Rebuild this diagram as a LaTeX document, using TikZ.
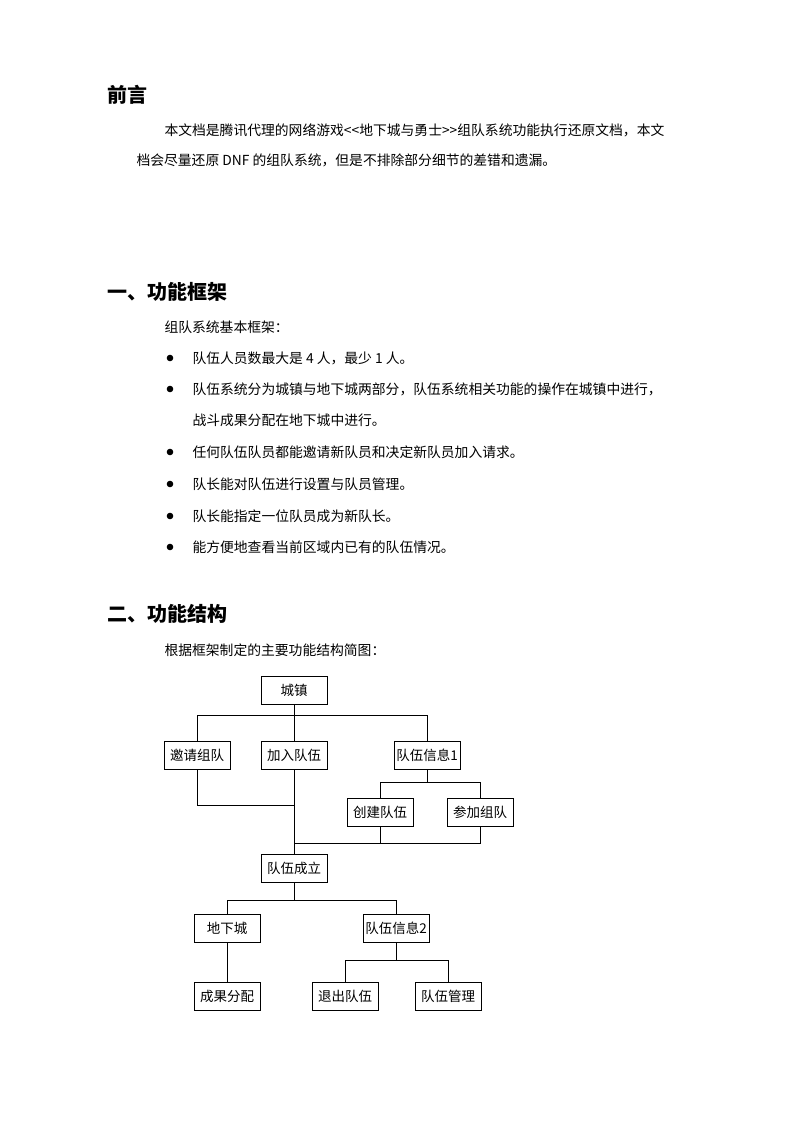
\documentclass[tikz,border=0pt]{standalone}
\usepackage{fontspec}
\setmainfont{Liberation Serif}
\newfontfamily\cjk{Noto Sans CJK SC}
\begin{document}
\begin{tikzpicture}[x=1pt,y=-1pt,
 bx/.style={draw,line width=0.8pt,minimum width=66pt,minimum height=28pt,inner sep=1pt,font=\cjk\fontsize{13.5}{14}\selectfont},
 ln/.style={line width=0.8pt},
 bd/.style={anchor=west,font=\cjk\fontsize{13.8}{15}\selectfont},
 hd/.style={anchor=west,font=\cjk\bfseries\fontsize{20}{22}\selectfont}]
\useasboundingbox (0,0) rectangle (794,1123);
\node[hd] (h0) at (104,95) {前言};
\node[bd] (p1) at (161,130) {本文档是腾讯代理的网络游戏<<地下城与勇士>>组队系统功能执行还原文档，本文};
\node[bd] (p2) at (133,160) {档会尽量还原 DNF 的组队系统，但是不排除部分细节的差错和遗漏。};
\node[hd] (h1) at (104,292) {一、功能框架};
\node[bd] (t1) at (161,327) {组队系统基本框架：};
\foreach \y/\t in {358/队伍人员数最大是 4 人，最少 1 人。,389/队伍系统分为城镇与地下城两部分，队伍系统相关功能的操作在城镇中进行，,452/任何队伍队员都能邀请新队员和决定新队员加入请求。,484/队长能对队伍进行设置与队员管理。,516/队长能指定一位队员成为新队长。,547/能方便地查看当前区域内已有的队伍情况。}{
 \fill (170,\y) circle (3.3);
 \node[bd] at (189,\y) {\t};}
\node[bd] (c1) at (189,420) {战斗成果分配在地下城中进行。};
\node[hd] (h2) at (104,614) {二、功能结构};
\node[bd] (t2) at (161,650) {根据框架制定的主要功能结构简图：};
% diagram
\node[bx] (cz) at (294,690) {城镇};
\node[bx] (yq) at (197,755) {邀请组队};
\node[bx] (jr) at (294,755) {加入队伍};
\node[bx] (x1) at (427,755) {队伍信息1};
\node[bx] (cj) at (380,812) {创建队伍};
\node[bx] (cjz) at (480,812) {参加组队};
\node[bx] (cl) at (294,868) {队伍成立};
\node[bx] (dx) at (227,928) {地下城};
\node[bx] (x2) at (396,928) {队伍信息2};
\node[bx] (cg) at (227,996) {成果分配};
\node[bx] (tc) at (345,996) {退出队伍};
\node[bx] (gl) at (448,996) {队伍管理};
\coordinate (j1) at (294,715);
\draw[ln] (cz.south) -- (jr.north);
\draw[ln] (yq.north) |- (x1.north |- j1) -- (x1.north);
\coordinate (j2) at (427,782);
\draw[ln] (x1.south) -- (j2);
\draw[ln] (cj.north) |- (cjz.north |- j2) -- (cjz.north);
\draw[ln] (jr.south) -- (cl.north);
\coordinate (j3) at (294,805);
\draw[ln] (yq.south) |- (j3);
\coordinate (j4) at (294,843);
\draw[ln] (cjz.south) |- (j4);
\draw[ln] (cj.south) -- (cj.south |- j4);
\coordinate (j5) at (294,900);
\draw[ln] (cl.south) -- (j5);
\draw[ln] (dx.north) |- (x2.north |- j5) -- (x2.north);
\draw[ln] (dx.south) -- (cg.north);
\coordinate (j6) at (396,960);
\draw[ln] (x2.south) -- (j6);
\draw[ln] (tc.north) |- (gl.north |- j6) -- (gl.north);
\end{tikzpicture}
\end{document}
